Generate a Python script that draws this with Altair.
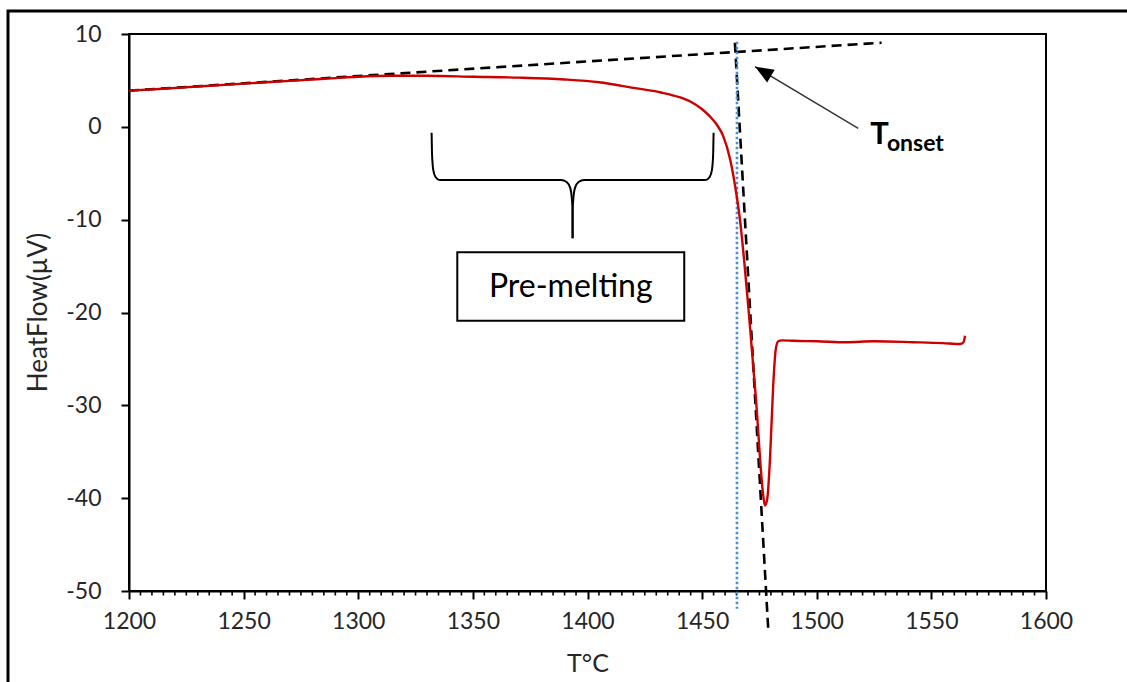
import altair as alt
import pandas as pd

# ---- measured curve (T in °C, heat flow in µV) ----
temp = [1200, 1215, 1230, 1250, 1270, 1290, 1300, 1315, 1330, 1350, 1370, 1390,
        1405, 1420, 1432, 1440, 1445, 1450, 1453.5, 1456.5, 1459.2, 1462.2,
        1464.4, 1466.5, 1468.3, 1470.6, 1473.5, 1476.7, 1477.4, 1478.4, 1479.6,
        1481.0, 1482.1, 1483.2, 1484.7, 1490, 1500, 1513, 1525, 1542, 1555,
        1562.5, 1564, 1564.7]
heat = [3.9, 4.1, 4.35, 4.66, 4.95, 5.25, 5.4, 5.5, 5.5, 5.4, 5.3, 5.1,
        4.8, 4.2, 3.7, 3.2, 2.7, 1.9, 1.1, 0.2, -1.0, -3.5,
        -6.4, -10.0, -14.3, -20.7, -29.4, -39.8, -40.8, -40.1, -35.8,
        -27.9, -24.0, -23.1, -23.0, -23.05, -23.1, -23.2, -23.1, -23.2, -23.3,
        -23.4, -23.2, -22.5]

# ---- construction lines ----
base_x = [1200, 1528.3]
base_y = [3.9, 9.06]
tan_x = [1464.3, 1478.9]
tan_y = [9.06, -54.4]
onset_x = [1465.2, 1465.2]
onset_y = [9.17, -51.9]

# ---- brace ("Pre-melting") ----
brace_left_x = [1332.0, 1332.2, 1332.7, 1333.7, 1335.5, 1388.5, 1390.9, 1392.5, 1393.2, 1393.5, 1393.5]
brace_right_x = [1455.0, 1454.8, 1454.3, 1453.3, 1451.5, 1398.5, 1396.1, 1394.5, 1393.8, 1393.5, 1393.5]
brace_y = [-0.64, -3.0, -4.6, -5.4, -5.73, -5.73, -5.95, -6.6, -7.8, -9.0, -12.0]

box_x = [1343.2]
box_x2 = [1442.2]
box_y = [-13.52]
box_y2 = [-20.9]
box_label = ["Pre-melting"]
box_label_x = [1392.7]
box_label_y = [-18.3]

# ---- T onset arrow ----
arrow_x = [1518.1, 1473.1]
arrow_y = [-0.16, 6.48]
onset_T_x = [1523.3]
onset_T_y = [-1.8]
onset_sub_x = [1530.6]
onset_sub_y = [-2.55]

x_ticks = list(range(1200, 1601, 50))
x_minor = [v for v in range(1200, 1601, 5) if v % 50 != 0]
y_ticks = list(range(-50, 11, 10))

FONT = "Lato"
TXT = "#262626"

xs = alt.Scale(domain=[1200, 1600], nice=False, zero=False)
ys = alt.Scale(domain=[-50, 10], nice=False, zero=False)

X = lambda f: alt.X(f, type="quantitative", scale=xs, title="T°C",
                    axis=alt.Axis(values=x_ticks, labelExpr="toString(datum.value)", grid=False,
                                  labelFlush=False, labelFont=FONT, labelFontSize=23,
                                  labelColor=TXT, labelBaseline="alphabetic",
                                  labelPadding=29, tickSize=8, tickWidth=2,
                                  tickColor="black", domainColor="black", domainWidth=2,
                                  titleFont=FONT, titleFontSize=25, titleFontWeight="normal",
                                  titleColor=TXT, titleBaseline="alphabetic", titleY=80))
Y = lambda f: alt.Y(f, type="quantitative", scale=ys, title="HeatFlow(µV)",
                    axis=alt.Axis(values=y_ticks, labelExpr="toString(datum.value)", grid=False,
                                  labelFont=FONT, labelFontSize=23, labelColor=TXT,
                                  labelPadding=20, tickSize=8, tickWidth=2,
                                  tickColor="black", domainColor="black", domainWidth=2,
                                  titleFont=FONT, titleFontSize=26, titleFontWeight="normal",
                                  titleColor=TXT, titleAngle=270, titleBaseline="middle",
                                  titleAlign="center", titleX=-91, titleY=278))

curve_df = pd.DataFrame({"t": temp, "h": heat})
base_df = pd.DataFrame({"t": base_x, "h": base_y, "g": ["base"] * 2})
tan_df = pd.DataFrame({"t": tan_x, "h": tan_y, "g": ["tan"] * 2})
onset_df = pd.DataFrame({"t": onset_x, "h": onset_y})
brace_df = pd.DataFrame({
    "t": brace_left_x + brace_right_x,
    "h": brace_y + brace_y,
    "side": ["L"] * len(brace_left_x) + ["R"] * len(brace_right_x),
    "o": list(range(len(brace_left_x))) + list(range(len(brace_right_x))),
})
box_df = pd.DataFrame({"t": box_x, "t2": box_x2, "h": box_y, "h2": box_y2})
label_df = pd.DataFrame({"t": box_label_x, "h": box_label_y, "txt": box_label})
arrow_df = pd.DataFrame({"t": arrow_x, "h": arrow_y})
head_df = pd.DataFrame({"t": [arrow_x[1]], "h": [arrow_y[1]]})
T_df = pd.DataFrame({"t": onset_T_x, "h": onset_T_y, "txt": ["T"]})
sub_df = pd.DataFrame({"t": onset_sub_x, "h": onset_sub_y, "txt": ["onset"]})
minor_df = pd.DataFrame({"t": x_minor})

frame = alt.Chart(pd.DataFrame({"a": [0]})).mark_rect(
    filled=False, stroke="black", strokeWidth=3
).encode(x=alt.value(-121), x2=alt.value(1012), y=alt.value(-23), y2=alt.value(670))

minor = alt.Chart(minor_df).mark_rule(color="black", strokeWidth=1.6).encode(
    x=X("t"), y=alt.value(557), y2=alt.value(561.5))

curve = alt.Chart(curve_df).mark_line(color="#cc0000", strokeWidth=2.4,
                                      interpolate="monotone").encode(x=X("t"), y=Y("h"))

dashed = alt.Chart(pd.concat([base_df, tan_df])).mark_line(
    color="black", strokeWidth=2.6, strokeDash=[10, 6]).encode(
    x=X("t"), y=Y("h"), detail="g:N")

blue = alt.Chart(onset_df).mark_line(color="#4A8FD6", strokeWidth=2.6,
                                     strokeDash=[2.5, 2.5]).encode(x=X("t"), y=Y("h"))

brace = alt.Chart(brace_df).mark_line(color="black", strokeWidth=2,
                                      interpolate="monotone").encode(
    x=X("t"), y=Y("h"), detail="side:N", order="o:Q")

box = alt.Chart(box_df).mark_rect(fill="white", stroke="black", strokeWidth=2).encode(
    x=X("t"), x2="t2", y=Y("h"), y2="h2")

label = alt.Chart(label_df).mark_text(font=FONT, fontSize=32, color="black",
                                      align="center", baseline="alphabetic").encode(
    x=X("t"), y=Y("h"), text="txt:N")

arrow = alt.Chart(arrow_df).mark_line(color="#333333", strokeWidth=1.4).encode(
    x=X("t"), y=Y("h"))

head = alt.Chart(head_df).mark_point(shape="M0,0L0.8,2L-0.8,2Z", size=340, angle=300.8,
                                     filled=True, color="black", opacity=1).encode(
    x=X("t"), y=Y("h"))

t_big = alt.Chart(T_df).mark_text(font=FONT, fontSize=31, fontWeight="bold", color="black",
                                  align="left", baseline="alphabetic").encode(
    x=X("t"), y=Y("h"), text="txt:N")
t_sub = alt.Chart(sub_df).mark_text(font=FONT, fontSize=23, fontWeight="bold", color="black",
                                    align="left", baseline="alphabetic").encode(
    x=X("t"), y=Y("h"), text="txt:N")

chart = alt.layer(frame, minor, dashed, blue, curve, brace, box, label, arrow, head,
                  t_big, t_sub).properties(
    width=917, height=557,
    padding={"left": 129, "top": 34, "right": 81, "bottom": 91},
    autosize=alt.AutoSizeParams(type="none"),
    background="white",
).configure_view(stroke="black", strokeWidth=2)

chart.save("out.html", embed_options={"renderer": "svg", "actions": False})
